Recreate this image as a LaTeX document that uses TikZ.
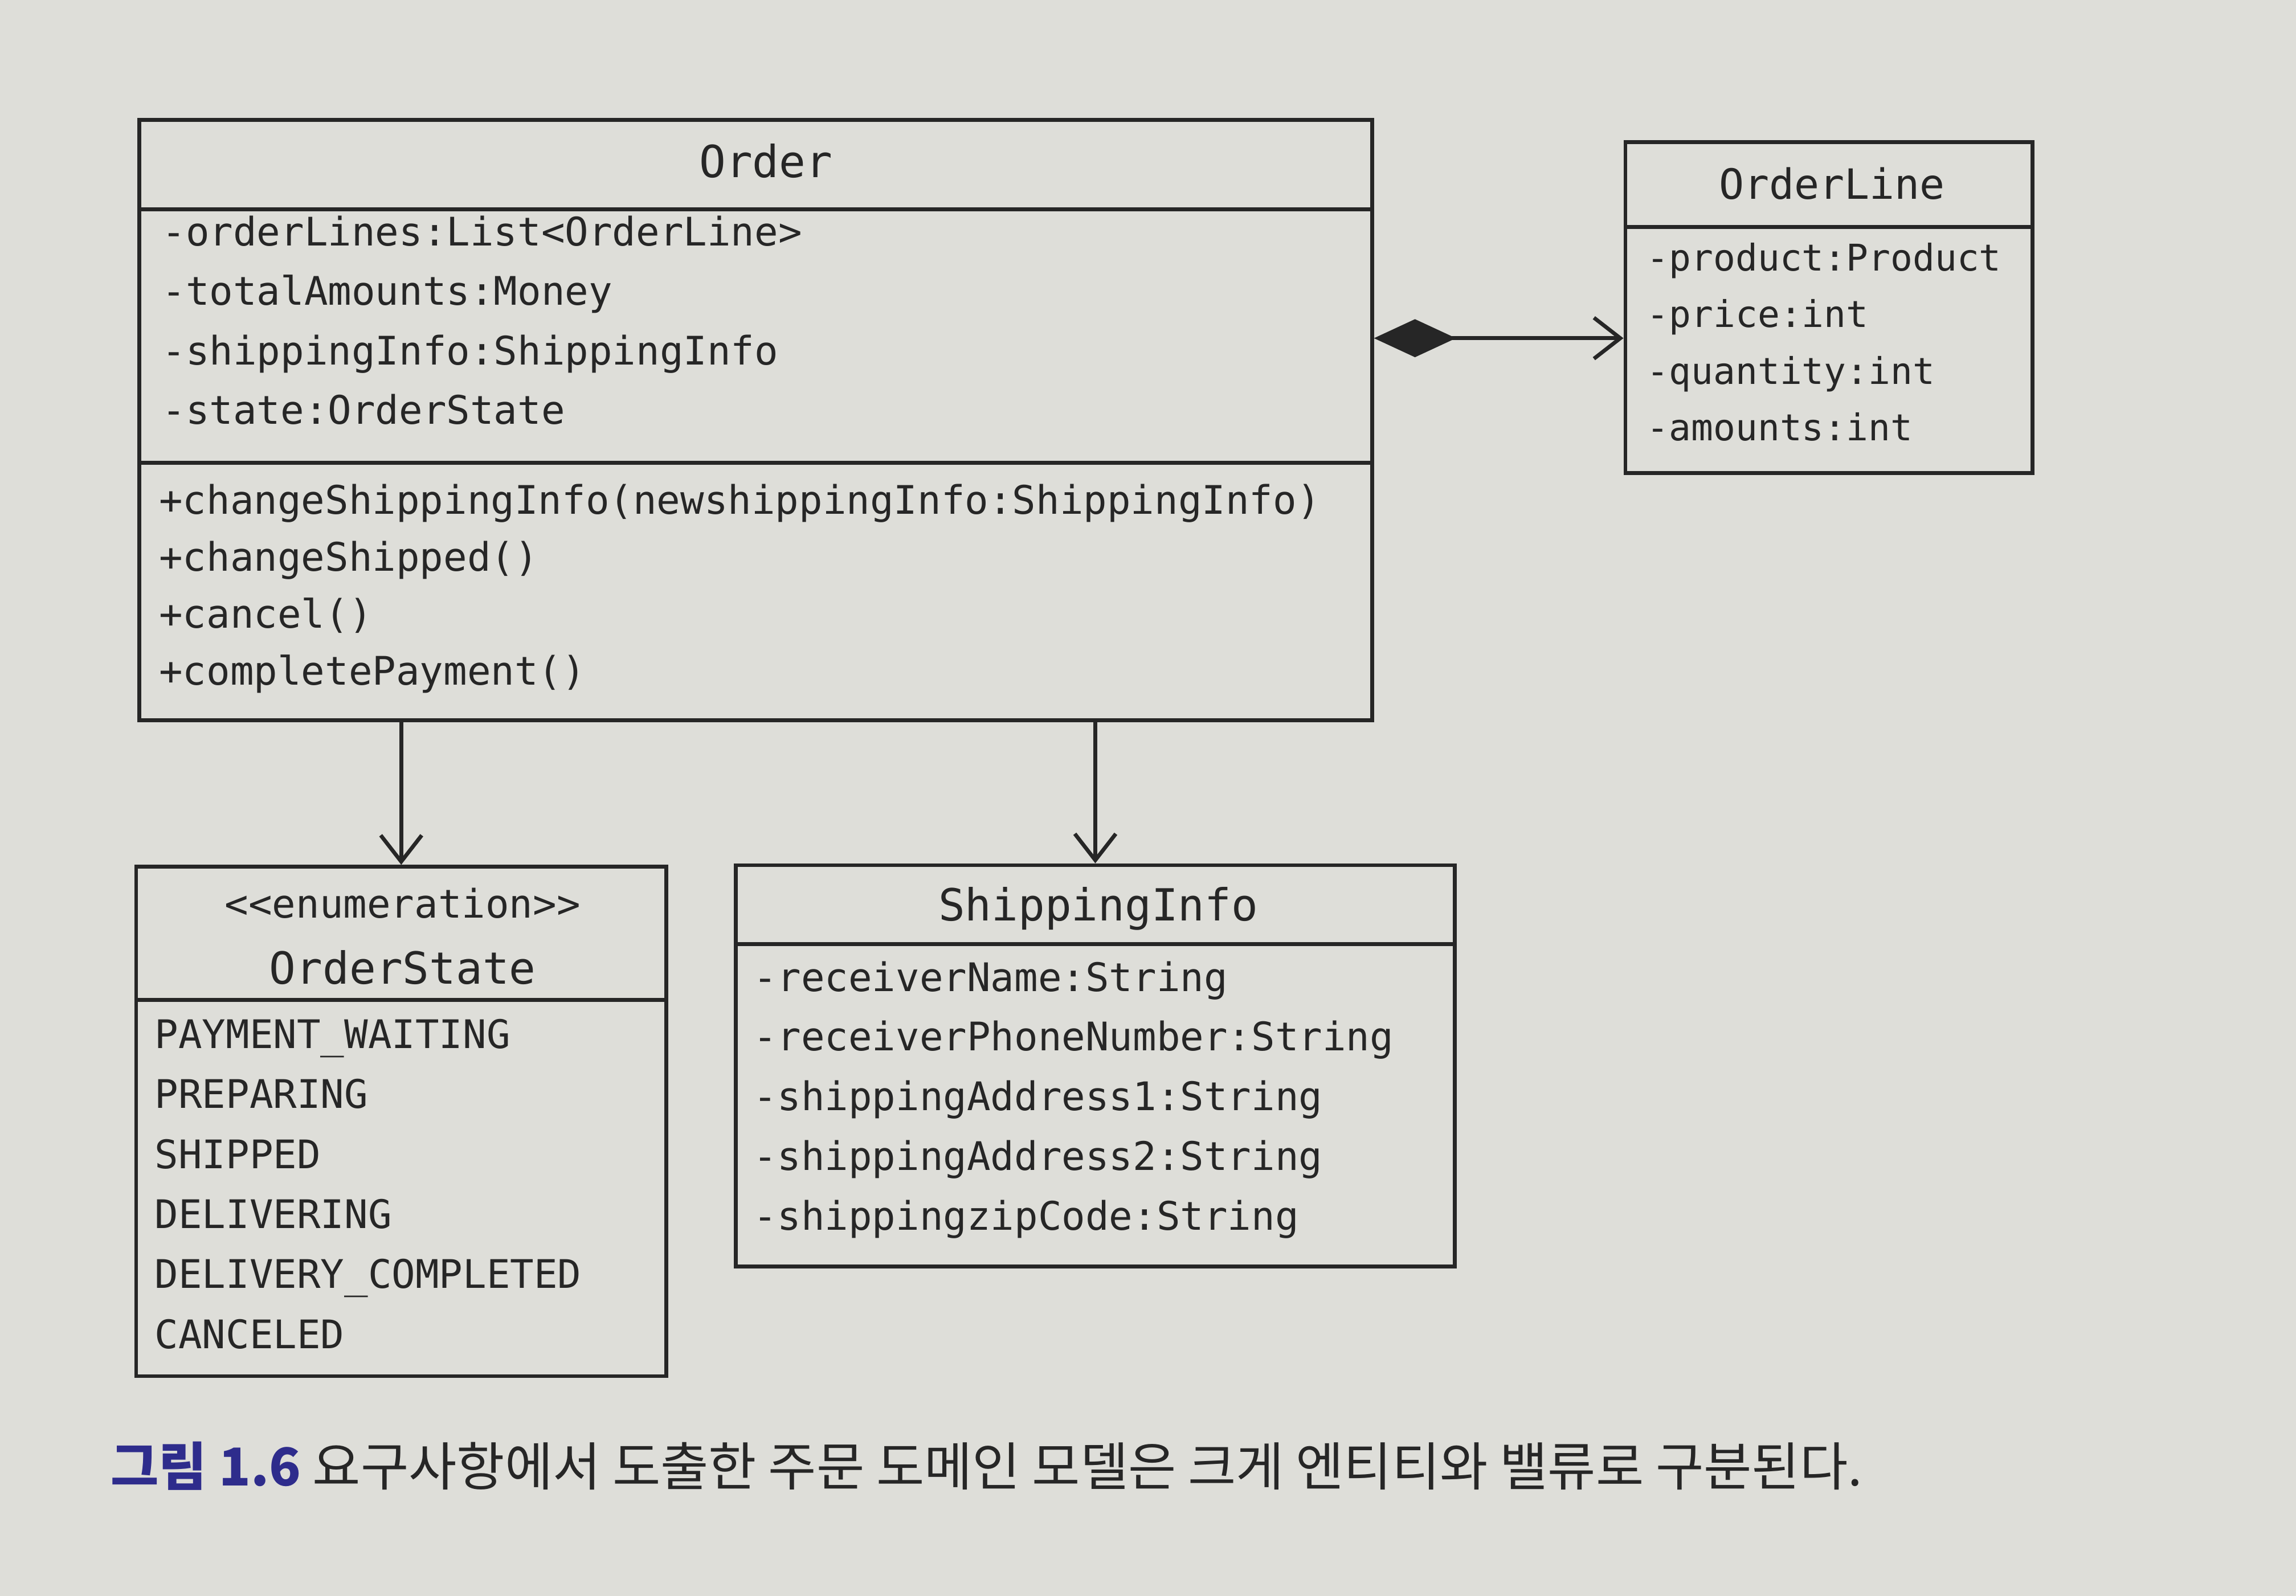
\documentclass[tikz,border=0pt]{standalone}
\usepackage{fontspec}
\setmainfont{DejaVu Sans Mono}
\newfontfamily\krfont{Noto Sans CJK KR}
\usetikzlibrary{arrows.meta}
\definecolor{paper}{RGB}{222,222,217}
\definecolor{ink}{RGB}{38,38,38}
\definecolor{figblue}{RGB}{46,44,140}
\tikzset{umlbox/.style = {draw=ink, line width=0.75pt, inner sep=0pt},
         divider/.style = {draw=ink, line width=0.75pt},
         member/.style = {anchor=base west, inner sep=0pt, text=ink,
                          font=\fontsize{7.65}{9}\selectfont},
         classname/.style = {anchor=base, inner sep=0pt, text=ink,
                             font=\fontsize{8.6}{10}\selectfont},
         assoc/.style = {draw=ink, line width=0.75pt,
                         -{Straight Barb[length=1.8mm, width=2.8mm]}},
         comp/.style = {draw=ink, line width=0.75pt,
                        {Diamond[length=5.6mm, width=2.6mm]}-{Straight Barb[length=1.8mm, width=2.8mm]}}}

\begin{document}
\begin{tikzpicture}
      \fill [paper] (0, 0) rectangle (15.68, -10.90);

      % Order
      \node [umlbox, minimum width=8.42cm, minimum height=4.10cm] (order) at (5.16, -2.87) {};
      \draw [divider] (0.95, -1.43) -- (9.37, -1.43);
      \draw [divider] (0.95, -3.16) -- (9.37, -3.16);
      \node [classname] (order-name) at (5.23, -1.21) {Order};
      \foreach \txt [count=\i] in {-orderLines:List<OrderLine>, -totalAmounts:Money,
                                   -shippingInfo:ShippingInfo, -state:OrderState}
        \node [member] (order-a\i) at (1.10, {-1.68-0.405*(\i-1)}) {\txt};
      \foreach \txt [count=\i] in {+changeShippingInfo(newshippingInfo:ShippingInfo),
                                   +changeShipped(), +cancel(), +completePayment()}
        \node [member] (order-m\i) at (1.08, {-3.51-0.39*(\i-1)}) {\txt};

      % OrderLine
      \node [umlbox, minimum width=2.78cm, minimum height=2.26cm] (orderline) at (12.49, -2.10) {};
      \draw [divider] (11.10, -1.55) -- (13.88, -1.55);
      \node [classname, font=\fontsize{8.1}{10}\selectfont] (orderline-name) at (12.51, -1.36) {OrderLine};
      \foreach \txt [count=\i] in {-product:Product, -price:int, -quantity:int, -amounts:int}
        \node [member, font=\fontsize{7.15}{9}\selectfont] (orderline-a\i) at (11.24, {-1.85-0.387*(\i-1)}) {\txt};

      % OrderState
      \node [umlbox, minimum width=3.62cm, minimum height=3.48cm] (orderstate) at (2.74, -7.66) {};
      \draw [divider] (0.93, -6.83) -- (4.55, -6.83);
      \node [member, anchor=base] (orderstate-st) at (2.75, -6.27) {<{}<enumeration>{}>};
      \node [classname] (orderstate-name) at (2.75, -6.72) {OrderState};
      \foreach \txt [count=\i] in {PAYMENT\_WAITING, PREPARING, SHIPPED, DELIVERING,
                                   DELIVERY\_COMPLETED, CANCELED}
        \node [member] (orderstate-v\i) at (1.05, {-7.16-0.41*(\i-1)}) {\txt};

      % ShippingInfo
      \node [umlbox, minimum width=4.91cm, minimum height=2.74cm] (shippinginfo) at (7.48, -7.28) {};
      \draw [divider] (5.025, -6.45) -- (9.935, -6.45);
      \node [classname] (shippinginfo-name) at (7.50, -6.29) {ShippingInfo};
      \foreach \txt [count=\i] in {-receiverName:String, -receiverPhoneNumber:String,
                                   -shippingAddress1:String, -shippingAddress2:String,
                                   -shippingzipCode:String}
        \node [member] (shippinginfo-a\i) at (5.14, {-6.77-0.408*(\i-1)}) {\txt};

      % connectors
      \coordinate (orderline-in) at ([yshift=-2.1mm]orderline.west);
      \draw [comp] (order.east |- orderline-in) -- (orderline-in);
      \draw [assoc] (order.south -| orderstate.north) -- (orderstate.north);
      \draw [assoc] (order.south -| shippinginfo.north) -- (shippinginfo.north);

      \node [anchor=base west, inner sep=0pt, text=ink, font=\krfont\fontsize{10.15}{12}\selectfont]
        (caption) at (0.75, -10.15)
        {{\bfseries\color{figblue}그림 1.6} 요구사항에서 도출한 주문 도메인 모델은 크게 엔티티와 밸류로 구분된다.};
    \end{tikzpicture}
\end{document}
